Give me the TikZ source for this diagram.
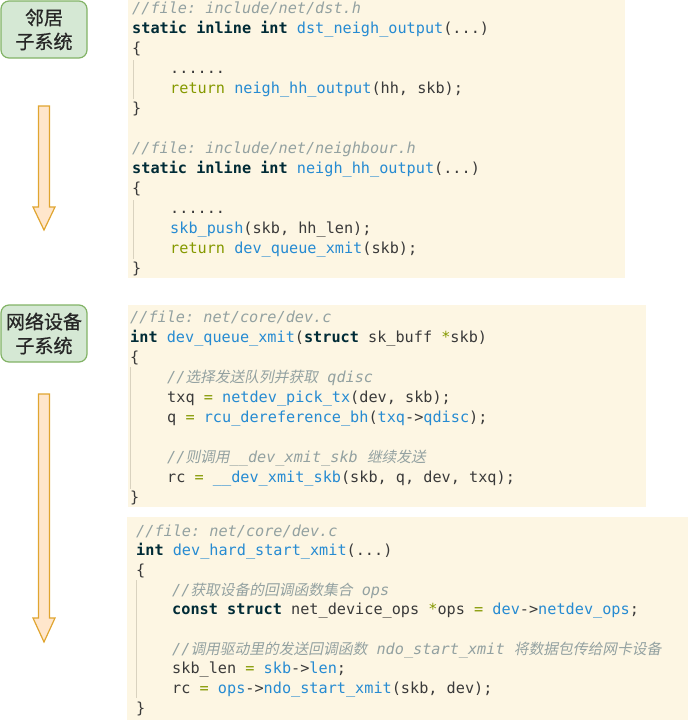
\documentclass[tikz,border=0pt]{standalone}
\usepackage{fontspec}
\setmonofont{DejaVu Sans Mono}
\newfontfamily\cjk[FakeBold=0.8]{Noto Sans CJK SC}
\newfontfamily\cjkit[FakeSlant=0.2,Scale=0.97]{Noto Sans CJK SC}
\usetikzlibrary{positioning}
\definecolor{codebg}{HTML}{FDF6E3}
\definecolor{txt}{HTML}{3A3A3A}
\definecolor{kwc}{HTML}{002B36}
\definecolor{fnc}{HTML}{268BD2}
\definecolor{grc}{HTML}{859900}
\definecolor{cmc}{HTML}{93A1A1}
\definecolor{guidec}{HTML}{D9D2BF}
\definecolor{sysfill}{HTML}{D5E8D4}
\definecolor{sysline}{HTML}{82B366}
\definecolor{flowfill}{HTML}{FFE6CC}
\definecolor{flowline}{HTML}{E0A530}
\newcommand\kwd[1]{{\bfseries\color{kwc}#1}}
\newcommand\fnc[1]{{\color{fnc}#1}}
\newcommand\grn[1]{{\color{grc}#1}}
\newcommand\cmt[1]{{\itshape\color{cmc}#1}}
\newcommand\zh[1]{{\cjkit #1}}

\begin{document}
\begin{tikzpicture}[x=1pt, y=-1pt,
    code/.style = {anchor=base west, inner sep=0pt, text=txt,
                   font=\ttfamily\fontsize{15.2}{18}\selectfont},
    sysbox/.style = {draw=sysline, fill=sysfill, line width=1.2pt,
                     rounded corners=8pt, minimum width=86pt, minimum height=57pt,
                     align=center, text=black!85, font=\cjk\fontsize{19}{24}\selectfont},
    flow/.style = {draw=flowline, fill=flowfill, line width=1.2pt},
    guide/.style = {draw=guidec, line width=1pt}]
\useasboundingbox (0,0) rectangle (690,720);
% code backgrounds
\fill[codebg] (128,0) rectangle (625,278);
\fill[codebg] (128,305) rectangle (646,507);
\fill[codebg] (127,517) rectangle (688,720);
\draw[guide] (133,60) -- (133,99);
\draw[guide] (133,200) -- (133,259);
\draw[guide] (130,367) -- (130,489);
\draw[guide] (136,580) -- (136,698);
% subsystems
\node[sysbox] (nbr) at (44,29.5) {邻居\\子系统};
\node[sysbox] (ndev) at (44,333.5) {网络设备\\子系统};
\draw[flow] (38.5,106) -- (49.5,106) -- (49.5,207) -- (55,207) -- (44,230)
    -- (33,207) -- (38.5,207) -- cycle;
\draw[flow] (38.5,394) -- (49.5,394) -- (49.5,618) -- (55,618) -- (44,642)
    -- (33,618) -- (38.5,618) -- cycle;
% dst.h
\node[code] (d1) at (132,13) {\cmt{//file: include/net/dst.h}};
\node[code] (d2) at (132,33) {\kwd{static inline int} \fnc{dst\_neigh\_output}(...)};
\node[code] (d3) at (132,53) {\{};
\node[code] (d4) at (170,73) {......};
\node[code] (d5) at (170,93) {\grn{return} \fnc{neigh\_hh\_output}(hh, skb);};
\node[code] (d6) at (132,113) {\}};
% neighbour.h
\node[code] (h1) at (132,153) {\cmt{//file: include/net/neighbour.h}};
\node[code] (h2) at (132,173) {\kwd{static inline int} \fnc{neigh\_hh\_output}(...)};
\node[code] (h3) at (132,193) {\{};
\node[code] (h4) at (170,213) {......};
\node[code] (h5) at (170,233) {\fnc{skb\_push}(skb, hh\_len);};
\node[code] (h6) at (170,253) {\grn{return} \fnc{dev\_queue\_xmit}(skb);};
\node[code] (h7) at (132,273) {\}};
% dev_queue_xmit
\node[code] (q1) at (130,322) {\cmt{//file: net/core/dev.c}};
\node[code] (q2) at (130,342) {\kwd{int} \fnc{dev\_queue\_xmit}(\kwd{struct} sk\_buff \grn{*}skb)};
\node[code] (q3) at (130,362) {\{};
\node[code] (q4) at (167,382) {\cmt{//\zh{选择发送队列并获取} qdisc}};
\node[code] (q5) at (167,402) {txq \grn{=} \fnc{netdev\_pick\_tx}(dev, skb);};
\node[code] (q6) at (167,422) {q \grn{=} \fnc{rcu\_dereference\_bh}(\fnc{txq}->\fnc{qdisc});};
\node[code] (q7) at (167,462) {\cmt{//\zh{则调用}\_\_dev\_xmit\_skb \zh{继续发送}}};
\node[code] (q8) at (167,482) {rc \grn{=} \fnc{\_\_dev\_xmit\_skb}(skb, q, dev, txq);};
\node[code] (q9) at (130,502) {\}};
% dev_hard_start_xmit
\node[code] (s1) at (136,536) {\cmt{//file: net/core/dev.c}};
\node[code] (s2) at (136,555.7) {\kwd{int} \fnc{dev\_hard\_start\_xmit}(...)};
\node[code] (s3) at (136,575.4) {\{};
\node[code] (s4) at (172,595) {\cmt{//\zh{获取设备的回调函数集合} ops}};
\node[code] (s5) at (172,614.8) {\kwd{const struct} net\_device\_ops \grn{*}ops \grn{=} \fnc{dev}->\fnc{netdev\_ops};};
\node[code] (s6) at (172,654) {\cmt{//\zh{调用驱动里的发送回调函数} ndo\_start\_xmit \zh{将数据包传给网卡设备}}};
\node[code] (s7) at (172,673.7) {skb\_len \grn{=} \fnc{skb}->\fnc{len};};
\node[code] (s8) at (172,693.4) {rc \grn{=} \fnc{ops}->\fnc{ndo\_start\_xmit}(skb, dev);};
\node[code] (s9) at (136,713) {\}};
\end{tikzpicture}
\end{document}
